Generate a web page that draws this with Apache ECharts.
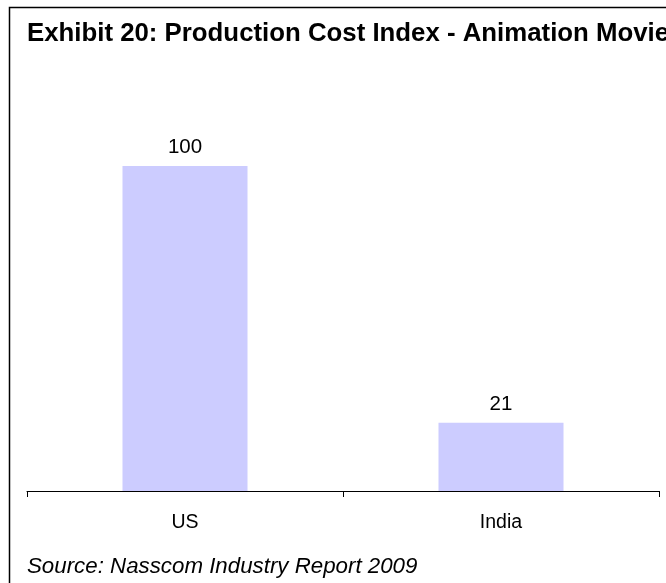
<!DOCTYPE html>
<html><head><meta charset="utf-8">
<script src="https://cdn.jsdelivr.net/npm/echarts@6/dist/echarts.min.js"></script>
<style>html,body{margin:0;padding:0;background:#fff}#c{width:666px;height:583px}</style>
</head><body><div id="c"></div>
<script>
const categories = ["US", "India"];
const values = [100, 21];
const titleText = "Exhibit 20: Production Cost Index - Animation Movies";
const sourceText = "Source: Nasscom Industry Report 2009";

const chart = echarts.init(document.getElementById('c'), null, {renderer: 'canvas'});
chart.setOption({
  animation: false,
  backgroundColor: '#fff',
  graphic: [
    {type: 'rect', shape: {x: 9.5, y: 7.5, width: 700, height: 700}, style: {fill: 'none', stroke: '#000', lineWidth: 1.5}},
    {type: 'text', x: 27, y: 34, style: {text: titleText, font: 'bold 25.8px "Liberation Sans", Arial', fill: '#000', verticalAlign: 'middle'}},
    {type: 'text', x: 27, y: 567, style: {text: sourceText, font: 'italic 22.3px "Liberation Sans", Arial', fill: '#000', verticalAlign: 'middle'}}
  ],
  grid: {left: 27, right: 7, top: 101, bottom: 92, containLabel: false},
  xAxis: {
    type: 'category', data: categories,
    axisLine: {lineStyle: {color: '#000', width: 1}},
    axisTick: {show: true, length: 6, lineStyle: {color: '#000'}},
    axisLabel: {color: '#000', fontSize: 19.5, fontFamily: '"Liberation Sans", Arial', margin: 22}
  },
  yAxis: {
    type: 'value', min: 0, max: 120, show: false,
    splitLine: {show: false}
  },
  series: [{
    type: 'bar', data: values, barWidth: 125,
    itemStyle: {color: '#CCCCFF'},
    label: {show: true, position: 'top', distance: 8, color: '#000', fontSize: 20.5, fontFamily: '"Liberation Sans", Arial'}
  }]
});
</script></body></html>
